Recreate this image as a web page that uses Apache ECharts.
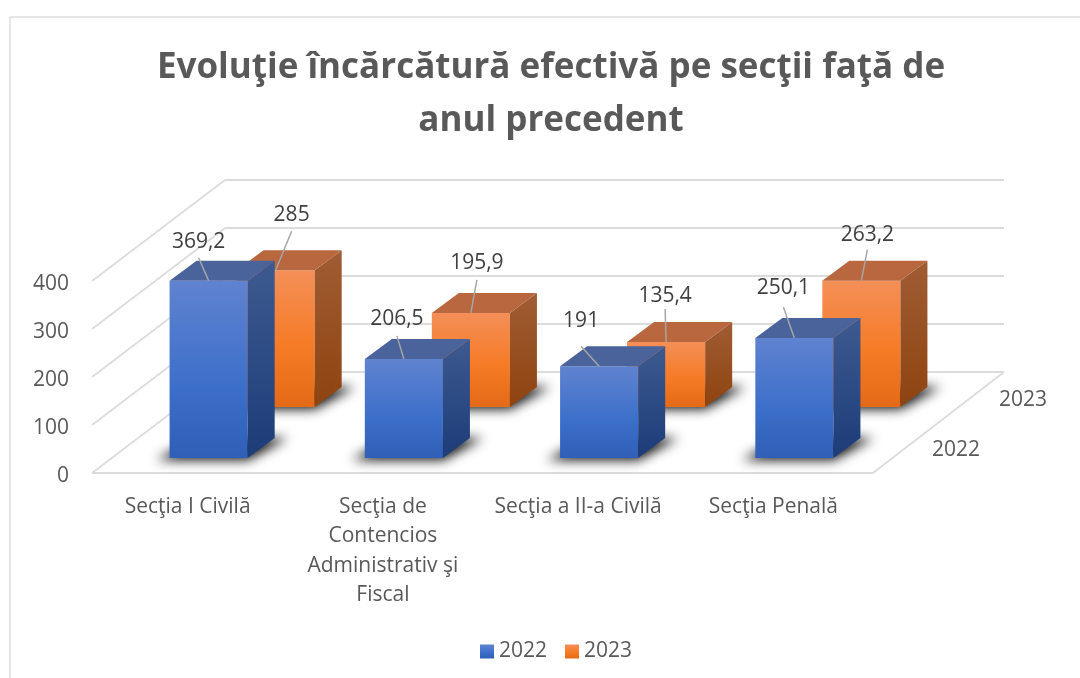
<!DOCTYPE html>
<html>
<head>
<meta charset="utf-8">
<title>Evoluţie încărcătură efectivă</title>
<style>
  html, body { margin: 0; padding: 0; background: #fff; }
  #chart { width: 1080px; height: 678px; }
</style>
<script src="https://cdn.jsdelivr.net/npm/echarts@6/dist/echarts.min.js"></script>
</head>
<body>
<div id="chart"></div>
<script>
//categorii si valori
var categories = ['Secţia I Civilă', 'Secţia de\nContencios\nAdministrativ şi\nFiscal', 'Secţia a II-a Civilă', 'Secţia Penală'];
var values2022 = [369.2, 206.5, 191, 250.1];
var values2023 = [285, 195.9, 135.4, 263.2];
var yTicks = [0, 100, 200, 300, 400];

//pozitia etichetelor fata de mijlocul barei: linie x, linie y, text y
var labelShift2022 = [[-10, -23, -39], [-7, -23, -40], [-18, -20, -45], [-11, -31, -50]];
var labelShift2023 = [[16, -39, -55], [6, -33, -50], [-1, -33, -46], [6, -31, -46]];

//proiectia oblica
var floorDepth = [133, -101];
var floorRight = 131;
var barDepth = [27, -20];
var barRatio = 0.4;
var shift2022 = [19, -15];
var shift2023 = [86, -66];

var fontName = '"Open Sans", sans-serif';
var textColor = '#595959';
var gridColor = '#dcdcdc';

var vert = function (stops) {
    return new echarts.graphic.LinearGradient(0, 0, 0, 1, stops.map(function (c) {
        return { offset: c[0], color: c[1] };
    }));
};

var blueFace = vert([[0, '#6083d0'], [0.6, '#3c6fca'], [1, '#2f5fb6']]);
var orangeFace = vert([[0, '#f48f58'], [0.55, '#f67b26'], [1, '#e56a17']]);
var blueSide = vert([[0, '#3d5a90'], [1, '#1d3c78']]);
var orangeSide = vert([[0, '#a05c33'], [1, '#8e4410']]);

var line = function (a, b, c, d) {
    return { type: 'line', shape: { x1: a, y1: b, x2: c, y2: d }, style: { stroke: gridColor, lineWidth: 1.8 } };
};

var wallItem = function (params, api) {
    var g = params.coordSys;
    var y = api.coord([0, api.value(0)])[1];
    var x1 = g.x + floorDepth[0];
    var y1 = y + floorDepth[1];
    return { type: 'group', children: [line(g.x, y, x1, y1), line(x1, y1, g.x + g.width + floorRight, y1)] };
};

var floorItem = function (params, api) {
    var g = params.coordSys;
    var bottom = g.y + g.height;
    var right = g.x + g.width;
    var depthText = function (txt, dx, dy) {
        return {
            type: 'text', x: right + dx, y: bottom + dy,
            style: { text: txt, fill: textColor, font: '21px ' + fontName, align: 'center', verticalAlign: 'middle' }
        };
    };
    return {
        type: 'group',
        children: [
            line(g.x, bottom, right, bottom),
            line(right, bottom, right + floorRight, bottom + floorDepth[1]),
            depthText('2022', 83, -23),
            depthText('2023', 150, -73)
        ]
    };
};

var barItem = function (shift, face, side, top, labels) {
    return function (params, api) {
        var i = api.value(0);
        var val = api.value(1);
        var pos = api.coord([i, val]);
        var base = api.coord([i, 0]);
        var w = api.size([1, 0])[0] * barRatio;
        var x0 = pos[0] + shift[0] - w / 2;
        var x1 = x0 + w;
        var yTop = pos[1] + shift[1];
        var yBase = base[1] + shift[1];
        var dx = barDepth[0];
        var dy = barDepth[1];
        var cx = x0 + w / 2;
        var off = labels[params.dataIndex];
        var label = String(val).replace('.', ',');
        //umbra pe podea: poligonul sta in afara paginii, se vede doar blur-ul
        var away = 3000;
        return {
            type: 'group',
            children: [
                {
                    type: 'polygon',
                    shape: { points: [[x0 - 13 - away, yBase + 2], [x1 - away, yBase + 2], [x1 + dx + 13 - away, yBase + dy], [x0 + dx - away, yBase + dy]] },
                    style: { fill: '#000', shadowBlur: 12, shadowColor: 'rgba(0,0,0,0.95)', shadowOffsetX: away }
                },
                { type: 'rect', shape: { x: x0, y: yTop, width: w, height: yBase - yTop }, style: { fill: face } },
                {
                    type: 'polygon',
                    shape: { points: [[x1, yTop], [x1 + dx, yTop + dy], [x1 + dx, yBase + dy], [x1, yBase]] },
                    style: { fill: side }
                },
                {
                    type: 'polygon',
                    shape: { points: [[x0, yTop], [x0 + dx, yTop + dy], [x1 + dx, yTop + dy], [x1, yTop]] },
                    style: { fill: top }
                },
                {
                    type: 'line',
                    shape: { x1: cx, y1: yTop, x2: cx + off[0], y2: yTop + off[1] },
                    style: { stroke: '#a6a6a6', lineWidth: 1.5 }
                },
                {
                    type: 'text', x: cx + off[0], y: yTop + off[2],
                    style: { text: label, fill: '#404040', font: '21px ' + fontName, align: 'center', verticalAlign: 'middle' }
                }
            ]
        };
    };
};

var makeData = function (list) {
    return list.map(function (v, i) { return [i, v]; });
};

var chart = echarts.init(document.getElementById('chart'), null, { renderer: 'canvas' });

chart.setOption({
    animation: false,
    backgroundColor: '#fff',
    title: {
        text: 'Evoluţie încărcătură efectivă pe secţii faţă de\nanul precedent',
        left: 546, top: 37, textAlign: 'center',
        textStyle: { fontFamily: fontName, fontWeight: 'bold', fontSize: 35, lineHeight: 53, color: textColor }
    },
    legend: {
        data: ['2022', '2023'],
        left: 475, top: 636,
        icon: 'rect', itemWidth: 14, itemHeight: 14, itemGap: 18,
        textStyle: { fontFamily: fontName, fontSize: 21, color: textColor }
    },
    grid: { left: 92, top: 281, width: 781, height: 192 },
    xAxis: {
        type: 'category', data: categories,
        axisLine: { show: false }, axisTick: { show: false }, splitLine: { show: false },
        axisLabel: { fontFamily: fontName, fontSize: 21, lineHeight: 29.5, color: textColor, margin: 19, interval: 0, padding: [0, 4, 0, 0] }
    },
    yAxis: {
        type: 'value', min: 0, max: 400, interval: 100,
        axisLine: { show: false }, axisTick: { show: false }, splitLine: { show: false },
        axisLabel: { fontFamily: fontName, fontSize: 21, color: textColor, margin: 23, verticalAlign: 'top', lineHeight: 6 }
    },
    graphic: [
        { type: 'line', shape: { x1: 10, y1: 17, x2: 1080, y2: 17 }, style: { stroke: '#dcdcdc', lineWidth: 1.5 } },
        { type: 'line', shape: { x1: 10, y1: 17, x2: 10, y2: 678 }, style: { stroke: '#dcdcdc', lineWidth: 1.5 } }
    ],
    series: [
        { type: 'custom', name: 'walls', z: 1, silent: true, clip: false, renderItem: wallItem, data: yTicks.map(function (t) { return [t]; }), encode: { y: 0 } },
        { type: 'custom', name: 'floor', z: 1, silent: true, clip: false, renderItem: floorItem, data: [[0]] },
        { type: 'custom', name: '2023', z: 3, clip: false, renderItem: barItem(shift2023, orangeFace, orangeSide, '#b8673e', labelShift2023), data: makeData(values2023), encode: { x: 0, y: 1 }, itemStyle: { color: orangeFace } },
        { type: 'custom', name: '2022', z: 4, clip: false, renderItem: barItem(shift2022, blueFace, blueSide, '#4a639b', labelShift2022), data: makeData(values2022), encode: { x: 0, y: 1 }, itemStyle: { color: blueFace } }
    ]
});
</script>
</body>
</html>
